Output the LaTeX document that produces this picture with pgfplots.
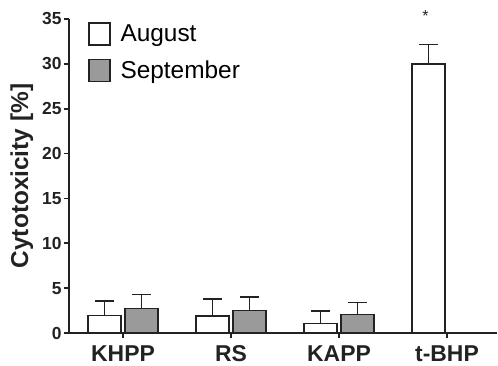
\documentclass[border=0pt]{standalone}
\usepackage{pgfplots}
\pgfplotsset{compat=1.18}
\usepackage{fontspec}
\setmainfont{Liberation Sans}
\definecolor{bargray}{HTML}{9A9A9A}
\definecolor{ink}{HTML}{222222}
\newcommand\ytl[1]{{\fontsize{17.5}{17.5}\selectfont\bfseries #1}}
\begin{document}
\begin{tikzpicture}
\begin{axis}[
  scale only axis,
  width=428bp, height=314bp,
  xmin=-0.5, xmax=3.463,
  ymin=0, ymax=35,
  axis x line*=bottom, axis y line*=left,
  axis line style={line width=2pt, ink},
  ybar=4bp, bar width=33bp,
  xtick={0,1,2,3},
  xticklabels={KHPP,RS,KAPP,t-BHP},
  ytick={0,5,10,15,20,25,30,35},
  yticklabels={\ytl{0},\ytl{5},\ytl{10},\ytl{15},\ytl{20},\ytl{25},\ytl{30},\ytl{35}},
  tick align=outside,
  major tick length=5bp,
  tick style={line width=1.6pt, ink},
  x tick label style={font=\fontsize{23}{23}\selectfont\bfseries, text=ink, yshift=-4bp},
  y tick label style={text=ink, xshift=1bp},
  ylabel={Cytotoxicity [\%]},
  ylabel style={font=\fontsize{24.5}{24.5}\selectfont\bfseries, text=ink, yshift=2bp},
  legend cell align=left,
  legend style={draw=none, fill=none, at={(rel axis cs:0.044,0.99)}, anchor=north west,
    font=\fontsize{24.5}{24.5}\selectfont, row sep=13bp, inner sep=0pt,
    /tikz/every odd column/.append style={column sep=8bp}},
  legend image code/.code={\draw[#1, line width=1.5pt] (0bp,-11bp) rectangle (21bp,11bp);},
  error bars/y dir=plus,
  error bars/y explicit,
  error bars/error bar style={line width=1.6pt, ink},
  error bars/error mark options={line width=1.6pt, ink, mark size=9.5bp, rotate=90},
  clip=false,
]
\addplot[draw=ink, line width=1.5pt, fill=white] coordinates {
  (0,1.97) +- (0,1.63)
  (1,1.90) +- (0,1.89)
  (2,1.08) +- (0,1.37)
  (3,30.0) +- (0,2.15)
};
\addlegendentry{August}
\addplot[draw=ink, line width=1.5pt, fill=bargray] coordinates {
  (0,2.75) +- (0,1.56)
  (1,2.53) +- (0,1.45)
  (2,2.04) +- (0,1.38)
};
\addlegendentry{September}
\node[font=\fontsize{16}{16}\selectfont, text=ink] at (axis cs:2.8,35.3) {*};
\coordinate (LL) at (rel axis cs:0,0);
\coordinate (UR) at (rel axis cs:1,1);
\end{axis}
\pgfresetboundingbox
\path[use as bounding box] ([shift={(-69bp,-33bp)}]LL) rectangle ([shift={(1bp,19bp)}]UR);
\end{tikzpicture}
\end{document}
